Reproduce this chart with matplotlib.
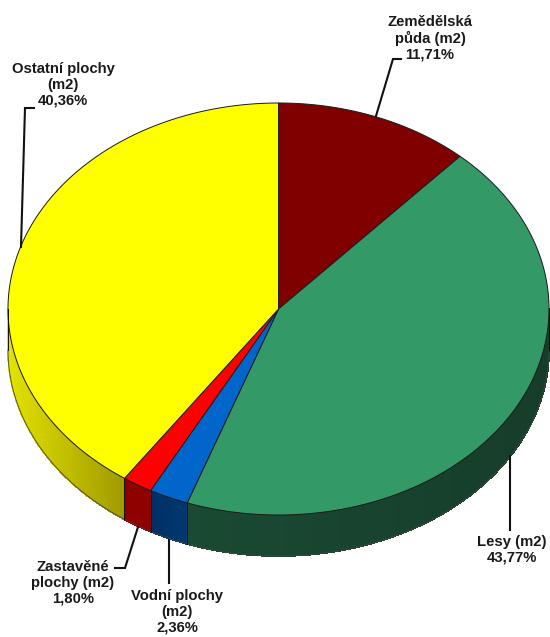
import numpy as np
import matplotlib
matplotlib.use('Agg')
import matplotlib.pyplot as plt
from matplotlib.collections import PolyCollection
from matplotlib.colors import to_rgb

# Data
labels = ['Zemědělská\npůda (m2)', 'Lesy (m2)', 'Vodní plochy\n(m2)', 'Zastavěné\nplochy (m2)', 'Ostatní plochy\n(m2)']
values = [11.71, 43.77, 2.36, 1.80, 40.36]
value_labels = ['11,71%', '43,77%', '2,36%', '1,80%', '40,36%']
colors = ['#800000', '#339966', '#0066CC', '#FF0000', '#FFFF00']

# side wall colours, left end and right end of the wall
side_left = ['#800000', '#1A4A33', '#002F66', '#8F0000', '#E2E200']
side_right = ['#800000', '#163D2A', '#003A70', '#8F0000', '#A09A00']

# Pie geometry in pixels
cx, cy = 278.5, 309
rx, ry = 270.5, 206
depth = 41

label_pos = [(430, 38), (512, 549.5), (177, 612), (73, 583), (63, 85)]
leaders = [
    [(376, 116), (393, 59), (401, 59)],
    [(510, 456), (510, 530)],
    [(169, 540), (169, 583)],
    [(138, 527), (125, 568), (115, 568)],
    [(21, 247), (25, 108), (34, 108)],
]


def ellipse_pts(t, dy=0):
    # t is in degrees, clockwise from 12 o'clock
    r = np.radians(t)
    return np.column_stack([cx + rx * np.sin(r), cy - ry * np.cos(r) + dy])


fig = plt.figure(figsize=(5.5, 6.37), dpi=100)
ax = fig.add_axes([0, 0, 1, 1])
ax.set_xlim(0, 550)
ax.set_ylim(637, 0)
ax.axis('off')

angles = np.concatenate([[0], np.cumsum(values)]) / sum(values) * 360

# Side walls of the front half
for i in range(len(values)):
    a0, a1 = max(angles[i], 90), min(angles[i + 1], 270)
    if a1 <= a0:
        continue
    t = np.linspace(a0, a1, int((a1 - a0) * 4) + 2)
    top = ellipse_pts(t)
    bot = ellipse_pts(t, depth)
    strips = [[top[j], top[j + 1], bot[j + 1], bot[j]] for j in range(len(t) - 1)]
    f = (top[:-1, 0] - top[:, 0].min()) / (top[:, 0].max() - top[:, 0].min())
    c0, c1 = np.array(to_rgb(side_left[i])), np.array(to_rgb(side_right[i]))
    cols = [c0 + (c1 - c0) * v for v in f]
    # no antialiasing here, it leaves light seams between the strips
    ax.add_collection(PolyCollection(strips, facecolors=cols, edgecolors=cols, linewidths=0.6, antialiaseds=False))
    ax.plot(bot[:, 0], bot[:, 1], color='#444444', lw=0.6)
    ax.plot([top[0, 0], bot[0, 0]], [top[0, 1], bot[0, 1]], color='#111111', lw=0.7)
    ax.plot([top[-1, 0], bot[-1, 0]], [top[-1, 1], bot[-1, 1]], color='#111111', lw=0.7)

# Top faces
for i in range(len(values)):
    t = np.linspace(angles[i], angles[i + 1], 300)
    pts = np.vstack([[cx, cy], ellipse_pts(t)])
    ax.fill(pts[:, 0], pts[:, 1], facecolor=colors[i], edgecolor='#1A1A1A', lw=0.7, joinstyle='round')

# Leader lines
for line in leaders:
    xs, ys = zip(*line)
    ax.plot(xs, ys, color='#111111', lw=1.5, solid_joinstyle='miter')

# Labels
for lab, val, (x, y) in zip(labels, value_labels, label_pos):
    ax.text(x, y, lab + '\n' + val, ha='center', va='center', family='Liberation Sans',
            fontweight='bold', fontsize=10.7, color='#1A1A1A', linespacing=1.16)

fig.savefig('out.png', dpi=100, facecolor='white')
